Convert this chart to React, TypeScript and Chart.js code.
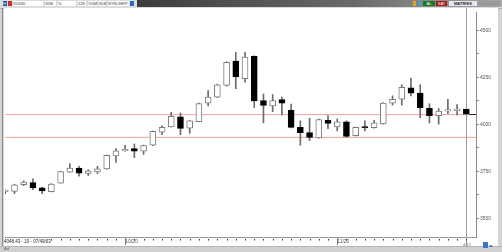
import React, { useEffect, useRef } from 'react';
import { Chart, registerables } from 'chart.js';

Chart.register(...registerables);

// ---- data ----
const opens = [3641, 3643, 3678, 3689, 3662, 3641, 3687, 3745, 3767, 3738, 3746, 3762, 3832, 3858, 3871, 3857, 3888, 3958, 3986, 4039, 3979, 4014, 4112, 4144, 4207, 4336, 4242, 4361, 4126, 4098, 4131, 4074, 3983, 3956, 3927, 4021, 3986, 4013, 3939, 3983, 3981, 4002, 4112, 4133, 4194, 4165, 4084, 4046, 4070, 4072, 4079];
const highs = [3651, 3681, 3699, 3710, 3665, 3684, 3750, 3790, 3776, 3758, 3776, 3836, 3871, 3888, 3895, 3889, 3964, 3991, 4063, 4060, 4020, 4112, 4179, 4213, 4332, 4382, 4382, 4364, 4161, 4158, 4144, 4107, 4018, 4032, 4028, 4046, 4028, 4018, 3985, 4018, 4021, 4115, 4151, 4210, 4245, 4210, 4109, 4084, 4133, 4105, 4081];
const lows = [3630, 3631, 3673, 3652, 3631, 3640, 3686, 3744, 3723, 3727, 3738, 3760, 3797, 3856, 3822, 3839, 3886, 3944, 3985, 3944, 3951, 4013, 4098, 4142, 4203, 4189, 4224, 4089, 4007, 4067, 4049, 3980, 3888, 3913, 3925, 3976, 3965, 3930, 3937, 3965, 3979, 4000, 4102, 4102, 4151, 4035, 4007, 4000, 4056, 4049, 4051];
const closes = [3642, 3678, 3692, 3661, 3645, 3682, 3748, 3767, 3739, 3752, 3762, 3834, 3858, 3867, 3857, 3887, 3962, 3984, 4042, 3977, 4018, 4110, 4144, 4210, 4329, 4252, 4357, 4124, 4100, 4126, 4112, 3983, 3955, 3930, 4025, 4004, 4013, 3935, 3983, 3980, 4007, 4112, 4133, 4196, 4165, 4088, 4046, 4070, 4076, 4074, 4053];

const xLabelIndex = [13, 36];
const xLabelText = ['10/20', '11/20'];
const yTickValues = [3500, 3625, 3750, 3875, 4000, 4125, 4250, 4375, 4500];
const yLabelEvery = 250;
const refLines = [4051, 3930];
const yMin = 3400;
const yMax = 4597;
const xMin = -0.03;
const xMax = 51.05;

const FONT = '"Liberation Sans", Arial, sans-serif';

function CandleChart() {
  const ref = useRef<HTMLCanvasElement>(null);
  useEffect(() => {
    if (!ref.current) return;
    const idx = opens.map((_, i) => i);
    const up = idx.map((i) => closes[i] >= opens[i]);
    const body = idx.map((i) => ({ x: i, y: [opens[i], closes[i]] }));
    const wick = idx.map((i) => ({ x: i, y: [lows[i], highs[i]] }));
    const last = opens.length - 1;

    const overlay = {
      id: 'overlay',
      beforeDatasetsDraw(chart: any) {
        const { ctx, scales } = chart;
        ctx.save();
        // vertical cursor line at last bar
        const xl = Math.round(scales.x.getPixelForValue(last)) + 0.5;
        ctx.lineWidth = 1;
        ctx.strokeStyle = '#9a9a9a';
        ctx.beginPath();
        ctx.moveTo(xl, 0);
        ctx.lineTo(xl, chart.height);
        ctx.stroke();
        ctx.restore();
      },
      afterDraw(chart: any) {
        const { ctx, chartArea, scales } = chart;
        ctx.save();
        // last price marker
        const yc = Math.round(scales.y.getPixelForValue(closes[last])) + 0.5;
        const xc = scales.x.getPixelForValue(last) + 3;
        ctx.strokeStyle = '#222';
        ctx.lineWidth = 1;
        ctx.beginPath();
        ctx.moveTo(xc, yc);
        ctx.lineTo(chartArea.right, yc);
        ctx.stroke();
        // x axis small tick dots
        ctx.fillStyle = '#333';
        idx.forEach((i) => {
          const x = Math.round(scales.x.getPixelForValue(i));
          if (x < chartArea.left || x > chartArea.right) return;
          ctx.fillRect(x, chartArea.bottom + 2, 1, 1.5);
        });
        // long ticks at labelled positions
        ctx.fillStyle = '#777';
        xLabelIndex.forEach((i) => {
          const x = Math.round(scales.x.getPixelForValue(i));
          ctx.fillRect(x, chartArea.bottom + 1, 1, 7);
        });
        ctx.restore();
      },
    };

    const refDatasets = refLines.map((v) => ({
      type: 'line',
      data: [
        { x: xMin, y: v },
        { x: xMax, y: v },
      ],
      borderColor: '#f5a0a0',
      borderWidth: 1,
      pointRadius: 0,
      fill: false,
      order: 5,
    }));

    const chart = new Chart(ref.current, {
      type: 'bar',
      data: {
        datasets: [
          {
            data: body as any,
            grouped: false,
            order: 0,
            barThickness: 6,
            minBarLength: 1.5,
            backgroundColor: up.map((u) => (u ? '#ffffff' : '#000000')),
            borderColor: up.map((u) => (u ? '#7d7d7d' : '#000000')),
            borderWidth: 1,
            borderSkipped: false,
          } as any,
          {
            data: wick as any,
            grouped: false,
            order: 1,
            barThickness: 1,
            backgroundColor: '#6c6c6c',
            borderWidth: 0,
          } as any,
          ...(refDatasets as any),
        ],
      },
      options: {
        animation: false,
        responsive: false,
        maintainAspectRatio: false,
        events: [],
        layout: { padding: { left: 1, top: 1, right: 0, bottom: 0 } },
        plugins: { legend: { display: false }, tooltip: { enabled: false } },
        scales: {
          x: {
            type: 'linear',
            min: xMin,
            max: xMax,
            offset: false,
            afterBuildTicks: (s: any) => {
              s.ticks = xLabelIndex.map((v) => ({ value: v }));
            },
            afterFit: (s: any) => {
              s.height = 9;
            },
            grid: { display: false, drawTicks: false },
            border: { display: true, color: '#9a9a9a' },
            ticks: {
              autoSkip: false,
              maxRotation: 0,
              align: 'start',
              padding: 2,
              color: '#555',
              font: { family: FONT, size: 5 },
              callback: (v: any) => {
                const k = xLabelIndex.indexOf(Number(v));
                return k >= 0 ? xLabelText[k] : '';
              },
            },
          },
          y: {
            type: 'linear',
            position: 'right',
            min: yMin,
            max: yMax,
            afterBuildTicks: (s: any) => {
              s.ticks = yTickValues.map((v) => ({ value: v }));
            },
            afterFit: (s: any) => {
              s.width = 22;
            },
            grid: { drawOnChartArea: false, drawTicks: true, tickLength: 3, color: '#8a8a8a' },
            border: { display: true, color: '#8a8a8a' },
            ticks: {
              padding: 1,
              color: '#555',
              font: { family: FONT, size: 5 },
              callback: (v: any) => (Number(v) % yLabelEvery === 0 ? String(v) : ''),
            },
          },
        },
      },
      plugins: [overlay],
    } as any);
    return () => chart.destroy();
  }, []);
  return (
    <canvas
      ref={ref}
      width={494}
      height={238}
      style={{ position: 'absolute', left: 4, top: 8, width: 494, height: 238, background: '#fff' }}
    />
  );
}

const box = (extra: React.CSSProperties): React.CSSProperties => ({
  position: 'absolute',
  top: 1,
  height: 5,
  fontSize: 4,
  lineHeight: '5px',
  fontFamily: FONT,
  color: '#333',
  overflow: 'hidden',
  whiteSpace: 'nowrap',
  ...extra,
});

export default function App() {
  return (
    <div
      style={{
        position: 'fixed',
        left: 0,
        top: 0,
        width: 502,
        height: 252,
        background: '#d4d4d4',
        overflow: 'hidden',
        fontFamily: FONT,
      }}
    >
      {/* toolbar */}
      <div style={{ position: 'absolute', left: 0, top: 0, width: 502, height: 8, background: '#dcdcdc', borderBottom: '1px solid #b0b0b0' }} />
      <div
        style={{
          position: 'absolute',
          left: 137,
          top: 0,
          width: 365,
          height: 7,
          background: 'linear-gradient(to right, #3c3c3c, #6a6a6a 60%, #a8a8a8)',
        }}
      />
      <div style={box({ left: 3, width: 4, background: '#2050b0', color: '#fff', fontSize: 4 })}>H</div>
      <div style={box({ left: 8, width: 4, background: '#c03030' })} />
      <div style={box({ left: 13, width: 30, background: '#fff' })}>XU030</div>
      <div style={box({ left: 45, width: 11, background: '#fff' })}>30M</div>
      <div style={box({ left: 58, width: 18, background: '#fff' })}>%</div>
      <div style={box({ left: 78, width: 8, background: '#fff' })}>12K</div>
      <div style={box({ left: 88, width: 9, background: '#fff' })}>%5M</div>
      <div style={box({ left: 99, width: 7, background: '#fff' })}>SUB</div>
      <div style={box({ left: 108, width: 21, background: '#fff' })}>SYNCHRP</div>
      <div style={box({ left: 130, width: 4, background: '#2a6ad0' })} />
      <div style={box({ left: 413, width: 3, background: '#e8a020' })} />
      <div style={box({ left: 418, width: 3, background: '#40a0c0' })} />
      <div style={box({ left: 423, width: 12, background: '#1a7a2a', color: '#fff', textAlign: 'center' })}>AL</div>
      <div style={box({ left: 436, width: 11, background: '#a01818', color: '#fff', textAlign: 'center' })}>SAT</div>
      <div style={box({ left: 449, width: 28, background: '#e8e8f0', color: '#223', textAlign: 'center', fontWeight: 700 })}>MATRIKS</div>
      <div style={box({ left: 479, width: 21, background: '#9a9a9a' })} />

      {/* left frame line */}
      <div style={{ position: 'absolute', left: 2, top: 8, width: 1, height: 238, background: '#8a8a8a' }} />
      {/* right frame strip */}
      <div style={{ position: 'absolute', left: 497, top: 8, width: 1, height: 238, background: '#9a9a9a' }} />

      <CandleChart />

      {/* status readout */}
      <div
        style={{
          position: 'absolute',
          left: 4,
          top: 239,
          height: 5,
          fontSize: 4.5,
          lineHeight: '5px',
          color: '#222',
          background: '#fff',
          whiteSpace: 'nowrap',
        }}
      >
        4048.43 - 10 - 07/49/03
      </div>
      {/* bottom bar */}
      <div style={{ position: 'absolute', left: 0, top: 246, width: 502, height: 6, background: '#d0d0d0', borderTop: '1px solid #b4b4b4' }} />
      <div style={{ position: 'absolute', left: 4, top: 246, fontSize: 4, lineHeight: '5px', color: '#555' }}>Ad</div>
      <div style={{ position: 'absolute', left: 463, top: 242, fontSize: 4, lineHeight: '5px', color: '#777' }}>4/13</div>
      <div style={{ position: 'absolute', left: 483, top: 242, width: 5, height: 6, background: '#3a78c8' }} />
      <div style={{ position: 'absolute', left: 489, top: 244, fontSize: 4, lineHeight: '4px', color: '#2a5aa8' }}>◂▸</div>
    </div>
  );
}
